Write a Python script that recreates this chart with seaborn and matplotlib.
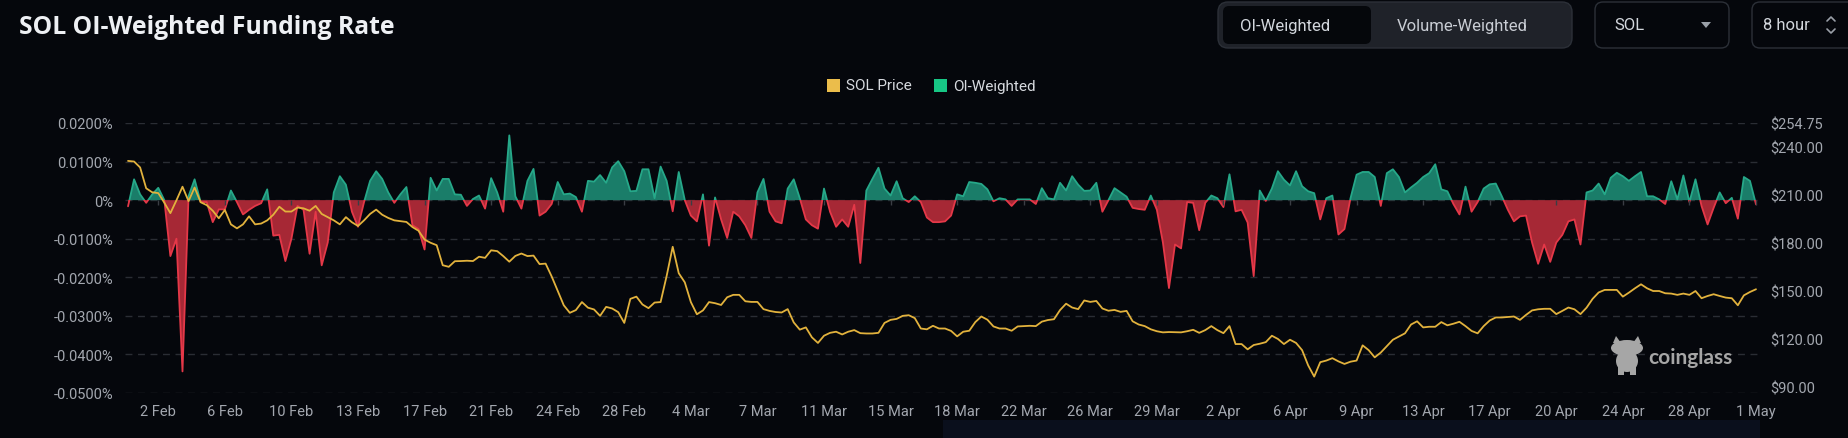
import numpy as np
import pandas as pd
import seaborn as sns
import matplotlib.pyplot as plt
from matplotlib.patches import FancyBboxPatch, Rectangle, Polygon, Ellipse

# OI-weighted funding rate (%), one value per 8 hours, 31 Jan -> 1 May
funding = [
    -0.0016, 0.0054, 0.0015, -0.0007, 0.0015, 0.0032, 0.0000, -0.0145, -0.0100, -0.0444,
    0.0010, 0.0054, -0.0005, -0.0005, -0.0057, -0.0024, -0.0024, 0.0025, -0.0005, -0.0037,
    -0.0025, -0.0015, -0.0008, 0.0028, -0.0092, -0.0090, -0.0158, -0.0100, -0.0015, -0.0025,
    -0.0139, -0.0030, -0.0169, -0.0110, 0.0020, 0.0062, 0.0040, -0.0030, -0.0069, -0.0005,
    0.0050, 0.0075, 0.0055, 0.0020, -0.0007, 0.0015, 0.0034, -0.0065, -0.0075, -0.0128,
    0.0058, 0.0025, 0.0055, 0.0055, 0.0015, 0.0014, -0.0015, 0.0003, 0.0012, -0.0022,
    0.0057, 0.0020, -0.0030, 0.0168, 0.0010, -0.0022, 0.0050, 0.0081, -0.0040, -0.0030,
    -0.0010, 0.0047, 0.0015, 0.0017, 0.0008, -0.0030, 0.0050, 0.0048, 0.0065, 0.0045,
    0.0085, 0.0101, 0.0075, 0.0023, 0.0024, 0.0080, 0.0080, 0.0005, 0.0087, 0.0050,
    -0.0029, 0.0073, 0.0000, -0.0040, -0.0055, 0.0015, -0.0118, 0.0007, -0.0050, -0.0098,
    -0.0030, -0.0042, -0.0065, -0.0098, 0.0020, 0.0055, -0.0030, -0.0055, -0.0060, 0.0030,
    0.0054, 0.0005, -0.0050, -0.0065, -0.0074, 0.0030, -0.0030, -0.0069, -0.0050, -0.0069,
    -0.0012, -0.0163, 0.0025, 0.0055, 0.0084, 0.0030, 0.0012, 0.0049, 0.0005, -0.0005,
    0.0010, -0.0005, -0.0045, -0.0057, -0.0057, -0.0055, -0.0040, 0.0015, 0.0010, 0.0047,
    0.0045, 0.0042, 0.0028, -0.0003, 0.0005, 0.0002, -0.0015, 0.0002, 0.0002, 0.0002,
    -0.0010, 0.0031, 0.0005, 0.0002, 0.0045, 0.0025, 0.0062, 0.0040, 0.0024, 0.0025,
    0.0045, -0.0030, 0.0000, 0.0031, 0.0020, 0.0009, -0.0020, -0.0023, -0.0025, 0.0012,
    -0.0025, -0.0110, -0.0228, -0.0115, -0.0125, -0.0005, -0.0007, -0.0078, -0.0007, 0.0012,
    0.0005, -0.0018, 0.0067, -0.0029, -0.0025, -0.0058, -0.0197, 0.0025, -0.0002, 0.0030,
    0.0075, 0.0053, 0.0038, 0.0075, 0.0036, 0.0023, 0.0018, -0.0050, 0.0005, 0.0012,
    -0.0089, -0.0075, 0.0005, 0.0066, 0.0073, 0.0073, 0.0060, -0.0015, 0.0070, 0.0080,
    0.0060, 0.0020, 0.0033, 0.0045, 0.0060, 0.0070, 0.0093, 0.0028, 0.0023, -0.0010,
    -0.0037, 0.0035, -0.0030, -0.0005, 0.0030, 0.0041, 0.0043, 0.0010, -0.0025, -0.0055,
    -0.0042, -0.0040, -0.0110, -0.0165, -0.0115, -0.0160, -0.0110, -0.0090, -0.0055, -0.0050,
    -0.0115, 0.0020, 0.0025, 0.0043, 0.0015, 0.0058, 0.0071, 0.0062, 0.0050, 0.0062,
    0.0073, 0.0010, 0.0010, 0.0002, -0.0010, 0.0049, 0.0002, 0.0064, -0.0005, 0.0054,
    -0.0015, -0.0063, -0.0020, 0.0020, -0.0008, 0.0006, -0.0048, 0.0060, 0.0050, -0.0011,
]

# SOL price (USD), same timestamps
price = [
    231.1, 230.7, 227.0, 214.0, 211.5, 211.0, 205.0, 198.5, 206.5, 215.0,
    206.0, 214.5, 205.3, 203.5, 200.0, 195.3, 200.5, 191.5, 189.0, 191.5,
    196.5, 191.5, 192.0, 194.0, 197.5, 202.5, 199.5, 199.5, 202.0, 201.5,
    200.0, 203.0, 198.0, 196.0, 194.0, 191.5, 196.0, 192.8, 190.5, 194.0,
    198.0, 200.7, 197.5, 195.5, 194.0, 193.5, 193.0, 189.8, 187.5, 182.0,
    180.0, 178.5, 166.0, 165.0, 168.5, 168.6, 168.8, 168.6, 171.3, 170.6,
    175.3, 174.8, 171.7, 168.2, 171.8, 173.3, 171.7, 172.0, 166.7, 167.0,
    159.0, 150.0, 141.0, 136.3, 138.0, 143.0, 139.5, 138.4, 134.4, 140.0,
    139.0, 136.7, 130.0, 145.0, 146.4, 141.5, 139.2, 142.7, 143.0, 159.3,
    177.5, 161.0, 155.3, 143.0, 135.4, 137.8, 143.0, 142.3, 141.2, 146.0,
    147.5, 147.5, 143.5, 143.1, 143.1, 138.6, 137.5, 136.8, 136.5, 138.6,
    130.3, 125.8, 127.2, 121.0, 117.5, 122.0, 123.8, 124.5, 122.8, 124.5,
    125.5, 123.6, 123.4, 123.4, 123.8, 130.0, 131.9, 132.5, 134.4, 134.8,
    133.0, 126.5, 126.0, 128.2, 126.5, 126.5, 125.0, 121.6, 124.5, 125.1,
    130.5, 134.0, 132.0, 127.8, 126.5, 126.5, 125.1, 127.8, 128.0, 128.2,
    128.0, 130.8, 131.8, 132.3, 138.0, 142.0, 139.6, 138.6, 144.0, 143.1,
    143.7, 139.0, 137.6, 138.1, 136.9, 137.5, 131.0, 129.0, 128.0, 126.0,
    124.8, 124.1, 124.3, 124.2, 124.1, 124.8, 125.7, 123.8, 125.5, 128.0,
    125.5, 123.6, 128.0, 116.8, 116.8, 113.5, 116.2, 117.0, 118.0, 122.0,
    120.0, 116.8, 119.5, 117.5, 113.0, 103.5, 96.5, 105.5, 106.5, 108.0,
    106.0, 104.4, 105.8, 106.5, 116.0, 113.0, 108.5, 111.5, 115.5, 119.5,
    121.5, 123.5, 129.0, 131.0, 127.2, 127.6, 127.6, 130.5, 128.5, 129.5,
    130.7, 128.0, 125.0, 123.5, 128.0, 131.5, 133.4, 133.4, 133.7, 134.0,
    131.9, 135.0, 137.8, 138.5, 138.8, 138.8, 135.5, 137.5, 139.6, 138.5,
    135.5, 139.5, 145.0, 149.0, 150.6, 150.6, 150.6, 146.4, 148.9, 151.6,
    154.1, 151.6, 149.9, 149.9, 148.5, 148.3, 147.5, 148.3, 147.5, 149.9,
    145.4, 146.8, 147.9, 146.8, 145.8, 145.4, 141.0, 147.2, 149.3, 151.0,
]

date_labels = ['2 Feb', '6 Feb', '10 Feb', '13 Feb', '17 Feb', '21 Feb', '24 Feb', '28 Feb',
               '4 Mar', '7 Mar', '11 Mar', '15 Mar', '18 Mar', '22 Mar', '26 Mar', '29 Mar',
               '2 Apr', '6 Apr', '9 Apr', '13 Apr', '17 Apr', '20 Apr', '24 Apr', '28 Apr', '1 May']
rate_ticks = [0.02, 0.01, 0.0, -0.01, -0.02, -0.03, -0.04, -0.05]
price_ticks = [90, 120, 150, 180, 210, 240, 254.75]

df = pd.DataFrame({'idx': np.arange(len(funding)), 'funding': funding, 'price': price})

sns.set_theme(style='dark')
plt.rcParams['font.family'] = ['Roboto', 'DejaVu Sans']

bg = '#05070c'
label_col = '#a3a7af'
green_fill, green_line = '#1a7d69', '#26a889'
red_fill, red_line = '#a62835', '#e53848'
gold = '#e2b23d'

W, H = 1849, 439
fig = plt.figure(figsize=(W / 100, H / 100), dpi=100, facecolor=bg)


def frame(x0, y0, x1, y1):
    return [x0 / W, 1 - y1 / H, (x1 - x0) / W, (y1 - y0) / H]


ax = fig.add_axes(frame(125, 124, 1758, 394))
ax.set_facecolor(bg)

x = df['idx'].values
f = df['funding'].values
ax.fill_between(x, f, 0, where=f >= 0, interpolate=True, color=green_fill, linewidth=0)
ax.fill_between(x, f, 0, where=f <= 0, interpolate=True, color=red_fill, linewidth=0)

sns.lineplot(data=df, x='idx', y='funding', ax=ax, color=green_line, linewidth=1.3)
ax.lines[-1].set_clip_path(Rectangle((-10, 0), 300, 1, transform=ax.transData))
sns.lineplot(data=df, x='idx', y='funding', ax=ax, color=red_line, linewidth=1.3)
ax.lines[-1].set_clip_path(Rectangle((-10, -1), 300, 1, transform=ax.transData))

tick_pos = np.arange(5, len(funding), 11)
ax.vlines(tick_pos, -0.0013, 0, color='#3a3d44', linewidth=1)

ax.set_xlim(-0.5, 269.33)
ax.set_ylim(-0.05, 0.02)
ax.set_yticks(rate_ticks)
ax.set_yticklabels(['0%' if v == 0 else f'{v:.4f}%' for v in rate_ticks])
ax.set_xticks(tick_pos)
ax.set_xticklabels(date_labels)
ax.grid(axis='y', color='#2a2d34', linestyle=(0, (5, 4)), linewidth=1)
ax.grid(axis='x', visible=False)
ax.tick_params(axis='both', length=0, labelsize=10.5, colors=label_col)
ax.tick_params(axis='y', pad=8.5)
ax.tick_params(axis='x', pad=8)
ax.set_xlabel('')
ax.set_ylabel('')
for s in ax.spines.values():
    s.set_visible(False)

ax2 = ax.twinx()
sns.lineplot(data=df, x='idx', y='price', ax=ax2, color=gold, linewidth=1.3)
ax2.set_ylim(86.26, 254.75)
ax2.set_yticks(price_ticks)
ax2.set_yticklabels([f'${v:.2f}' for v in price_ticks])
ax2.tick_params(axis='y', length=0, labelsize=10.5, colors=label_col, pad=8.5)
ax2.grid(False)
ax2.set_ylabel('')
for s in ax2.spines.values():
    s.set_visible(False)

# page furniture in pixel coordinates
ov = fig.add_axes([0, 0, 1, 1], zorder=5)
ov.set_xlim(0, W)
ov.set_ylim(H, 0)
ov.axis('off')
ov.patch.set_alpha(0)

ov.text(19, 27, 'SOL OI-Weighted Funding Rate', fontsize=17.8, fontweight='bold',
        color='#eef0f4', va='center', ha='left', family=['Open Sans', 'DejaVu Sans'])

ov.add_patch(FancyBboxPatch((1218, 3), 354, 46, boxstyle='round,pad=0,rounding_size=10',
                            fc='#1f2229', ec='#2c3038', lw=1))
ov.add_patch(FancyBboxPatch((1223, 7), 148, 38, boxstyle='round,pad=0,rounding_size=6',
                            fc='#05070b', ec='none'))
ov.text(1285, 26, 'OI-Weighted', fontsize=12, color='#d3d7dd', ha='center', va='center')
ov.text(1462, 26, 'Volume-Weighted', fontsize=12, color='#c9cdd4', ha='center', va='center')

ov.add_patch(FancyBboxPatch((1595, 3), 134, 46, boxstyle='round,pad=0,rounding_size=8',
                            fc=bg, ec='#2c3038', lw=1))
ov.text(1614, 26, 'SOL', fontsize=12, color='#d3d7dd', ha='left', va='center')
ov.add_patch(Polygon([[1701, 23], [1711, 23], [1706, 29]], closed=True, fc='#9aa0a8', ec='none'))

ov.add_patch(FancyBboxPatch((1752, 3), 120, 46, boxstyle='round,pad=0,rounding_size=8',
                            fc=bg, ec='#2c3038', lw=1))
ov.text(1763, 26, '8 hour', fontsize=12, color='#d3d7dd', ha='left', va='center')
ov.plot([1827, 1831, 1835], [22, 18, 22], color='#9aa0a8', lw=1.2)
ov.plot([1827, 1831, 1835], [30, 34, 30], color='#9aa0a8', lw=1.2)

# legend
ov.add_patch(Rectangle((827, 80), 13, 13, fc='#ebbd4b', ec='none'))
ov.text(846, 86.5, 'SOL Price', fontsize=11, color='#d7dadf', ha='left', va='center')
ov.add_patch(Rectangle((934, 80), 13, 13, fc='#17c785', ec='none'))
ov.text(953, 86.5, 'OI-Weighted', fontsize=11, color='#d7dadf', ha='left', va='center')

# coinglass watermark
wm = '#a6a6a6'
ov.add_patch(Ellipse((1627, 349), 32, 16, fc=wm, ec='none'))
ov.add_patch(Ellipse((1627, 362), 22, 22, fc=wm, ec='none'))
ov.add_patch(Rectangle((1618, 366), 6, 10, fc=wm, ec='none'))
ov.add_patch(Rectangle((1630, 366), 6, 10, fc=wm, ec='none'))
ov.add_patch(Polygon([[1613, 344], [1616, 337], [1621, 344]], closed=True, fc=wm, ec='none'))
ov.add_patch(Polygon([[1633, 344], [1638, 337], [1641, 344]], closed=True, fc=wm, ec='none'))
ov.text(1648, 358, 'coinglass', fontsize=15, fontweight='bold', color=wm, ha='left', va='center',
        family=['Lato', 'DejaVu Sans'])

# range slider strip at the very bottom
ov.add_patch(Rectangle((943, 421), 817, 20, fc='#0a0f1c', ec='none'))

fig.savefig('out.png', dpi=100, facecolor=bg)
